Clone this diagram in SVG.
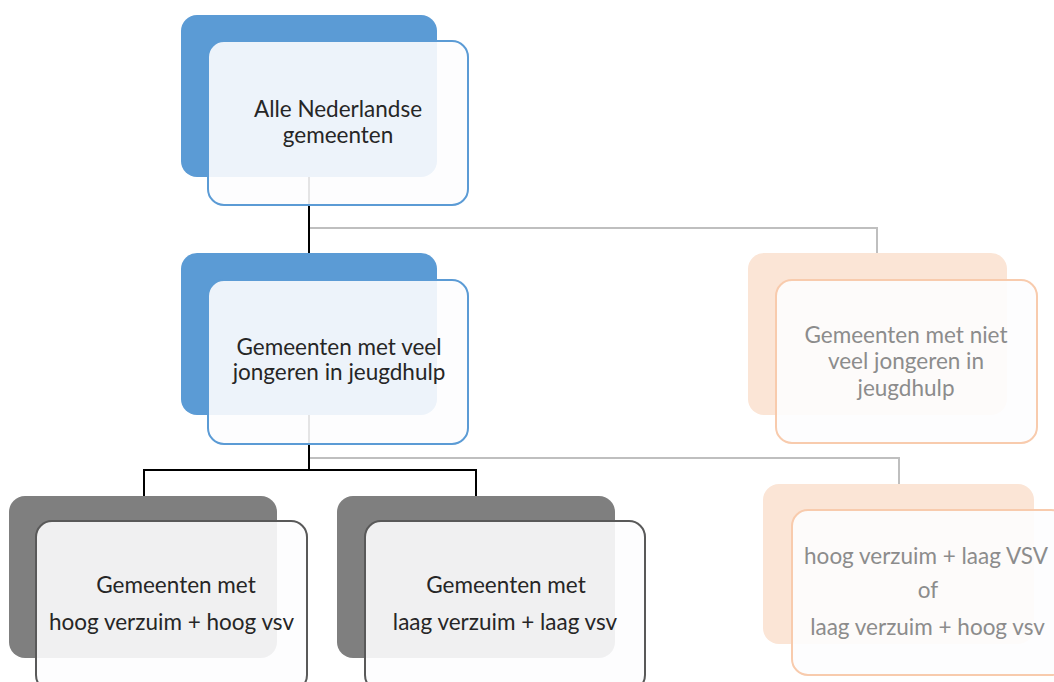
<svg xmlns="http://www.w3.org/2000/svg" width="1054" height="682" viewBox="0 0 1054 682">
  <style>
    text { font-family: Lato, "Liberation Sans", sans-serif; font-size: 22.5px; text-anchor: middle; }
    .dark { fill: #262626; }
    .pale { fill: #8C8C8C; }
    .backBlue { fill: #5B9BD5; }
    .backGrey { fill: #7F7F7F; }
    .backPale { fill: #FBE5D6; }
    .front { fill: #FDFDFE; fill-opacity: 0.9; stroke-width: 2; }
    .fBlue { stroke: #5B9BD5; }
    .fGrey { stroke: #595959; }
    .fPale { stroke: #F8CBAD; }
    .blk { fill: none; stroke: #000000; stroke-width: 2; }
    .gry { fill: none; stroke: #BFBFBF; stroke-width: 2; }
  </style>
  <rect width="1054" height="682" fill="#FFFFFF"/>
  <g id="connectors">
    <path class="gry" d="M309,228 H877 V253"/>
    <path class="blk" d="M309,177 V253"/>
    <path class="gry" d="M309,458 H899 V484"/>
    <path class="blk" d="M309,415 V470 M144,496 V470 H476 V496"/>
  </g>
  <g id="node-alle">
    <rect class="backBlue" x="181" y="15" width="256" height="162" rx="16"/>
    <rect class="front fBlue" x="208" y="41" width="260" height="164" rx="16"/>
    <text class="dark" x="338" y="117">Alle Nederlandse</text>
    <text class="dark" x="338" y="143">gemeenten</text>
  </g>
  <g id="node-veel">
    <rect class="backBlue" x="181" y="253" width="256" height="162" rx="16"/>
    <rect class="front fBlue" x="208" y="280" width="260" height="164" rx="16"/>
    <text class="dark" x="339" y="355">Gemeenten met veel</text>
    <text class="dark" x="339" y="380">jongeren in jeugdhulp</text>
  </g>
  <g id="node-nietveel">
    <rect class="backPale" x="748" y="253" width="259" height="162" rx="16"/>
    <rect class="front fPale" x="776" y="280" width="261" height="163" rx="16"/>
    <text class="pale" x="906" y="343">Gemeenten met niet</text>
    <text class="pale" x="906" y="369">veel jongeren in</text>
    <text class="pale" x="906" y="396">jeugdhulp</text>
  </g>
  <g id="node-hooghoog">
    <rect class="backGrey" x="9" y="496" width="268" height="162" rx="16"/>
    <rect class="front fGrey" x="36" y="521" width="271" height="170" rx="16"/>
    <text class="dark" x="176" y="593">Gemeenten met</text>
    <text class="dark" x="171.5" y="630">hoog verzuim + hoog vsv</text>
  </g>
  <g id="node-laaglaag">
    <rect class="backGrey" x="337" y="496" width="278" height="162" rx="16"/>
    <rect class="front fGrey" x="365" y="521" width="280" height="170" rx="16"/>
    <text class="dark" x="506" y="593">Gemeenten met</text>
    <text class="dark" x="505" y="630">laag verzuim + laag vsv</text>
  </g>
  <g id="node-gemengd">
    <rect class="backPale" x="763" y="484" width="271" height="160" rx="16"/>
    <rect class="front fPale" x="792" y="510" width="275" height="165" rx="16"/>
    <text class="pale" x="926" y="564">hoog verzuim + laag VSV</text>
    <text class="pale" x="928" y="598">of</text>
    <text class="pale" x="927.5" y="635">laag verzuim + hoog vsv</text>
  </g>
</svg>
